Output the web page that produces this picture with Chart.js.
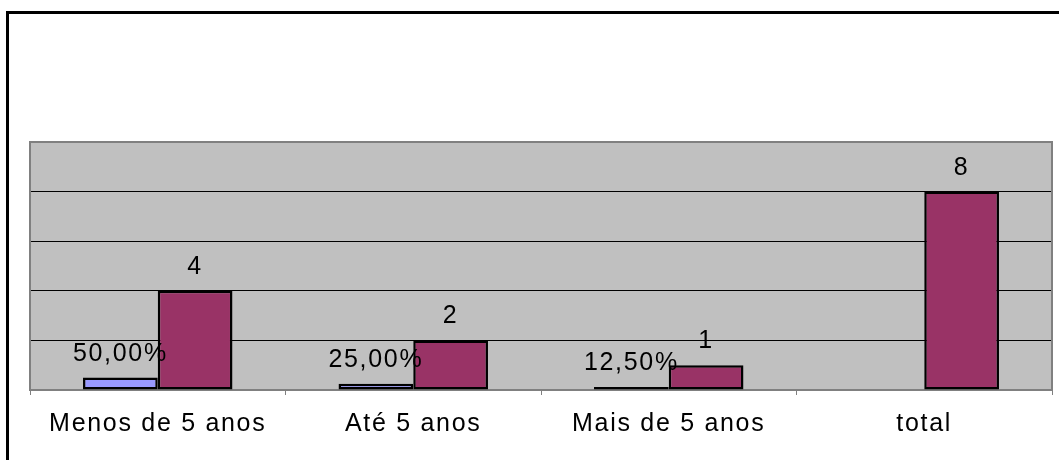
<!DOCTYPE html>
<html><head><meta charset="utf-8">
<script src="https://cdn.jsdelivr.net/npm/chart.js@4.4.0/dist/chart.umd.min.js"></script>
<style>html,body{margin:0;padding:0;background:#fff;overflow:hidden}#wrap{width:1059px;height:460px;position:relative}</style>
</head><body><div id="wrap"><canvas id="c" width="1059" height="460"></canvas></div>
<script>
const categories = ['Menos de 5 anos', 'Até 5 anos', 'Mais de 5 anos', 'total'];
const percentValues = [0.5, 0.25, 0.125, null];
const countValues = [4, 2, 1, 8];
const yMin = 0, yMax = 10, yStep = 2;

const FONT = '"Liberation Sans", Arial, sans-serif';
const SPACING = '1.7px';
const FSIZE = 25;

function fmtPct(v) { return (v * 100).toFixed(2).replace('.', ',') + '%'; }

const framePlugin = {
  id: 'frame',
  beforeDraw(chart) {
    const ctx = chart.ctx, a = chart.chartArea;
    ctx.letterSpacing = SPACING;
    ctx.save();
    ctx.fillStyle = '#ffffff';
    ctx.fillRect(0, 0, chart.width, chart.height);
    ctx.strokeStyle = '#000000';
    ctx.lineWidth = 3;
    ctx.strokeRect(7.5, 12.5, 1200, 600);
    ctx.fillStyle = '#c0c0c0';
    ctx.fillRect(a.left, a.top, a.right - a.left, a.bottom - a.top);
    ctx.restore();
  },
  beforeDatasetsDraw(chart) {
    const ctx = chart.ctx, a = chart.chartArea;
    ctx.save();
    ctx.strokeStyle = '#808080';
    ctx.lineWidth = 2;
    ctx.strokeRect(a.left, a.top, a.right - a.left, a.bottom - a.top);
    ctx.restore();
  },
  afterDatasetsDraw(chart) {
    const ctx = chart.ctx;
    ctx.save();
    ctx.letterSpacing = SPACING;
    ctx.font = FSIZE + 'px ' + FONT;
    ctx.fillStyle = '#000000';
    ctx.textAlign = 'center';
    ctx.textBaseline = 'alphabetic';
    chart.data.datasets.forEach((ds, di) => {
      const meta = chart.getDatasetMeta(di);
      meta.data.forEach((bar, i) => {
        const v = ds.data[i];
        if (v === null || v === undefined) return;
        const txt = di === 0 ? fmtPct(v) : String(v);
        ctx.fillText(txt, bar.x, bar.y - 17);
      });
    });
    ctx.restore();
  }
};

const chart = new Chart(document.getElementById('c'), {
  type: 'bar',
  data: {
    labels: categories,
    datasets: [
      { label: 'percentual', data: percentValues, backgroundColor: '#9999ff', borderColor: '#000000', borderWidth: 2.5, borderSkipped: false },
      { label: 'quantidade', data: countValues, backgroundColor: '#993366', borderColor: '#000000', borderWidth: 2.5, borderSkipped: false }
    ]
  },
  options: {
    responsive: false,
    animation: false,
    devicePixelRatio: 1,
    layout: { padding: { left: 30, right: 7, top: 142, bottom: 0 } },
    datasets: { bar: { categoryPercentage: 0.585, barPercentage: 1 } },
    plugins: { legend: { display: false }, tooltip: { enabled: false } },
    scales: {
      x: {
        offset: true,
        grid: { offset: true, drawOnChartArea: false, drawTicks: true, tickLength: 5, color: '#808080', lineWidth: 1 },
        border: { display: false },
        ticks: { color: '#000000', font: { family: FONT, size: FSIZE }, padding: 14, maxRotation: 0 },
        afterFit(s) { s.height = 70; }
      },
      y: {
        min: yMin, max: yMax,
        ticks: { display: false, stepSize: yStep },
        grid: { color: '#000000', lineWidth: 1, drawTicks: false },
        border: { display: false },
        afterFit(s) { s.width = 0; }
      }
    }
  },
  plugins: [framePlugin]
});
</script></body></html>
